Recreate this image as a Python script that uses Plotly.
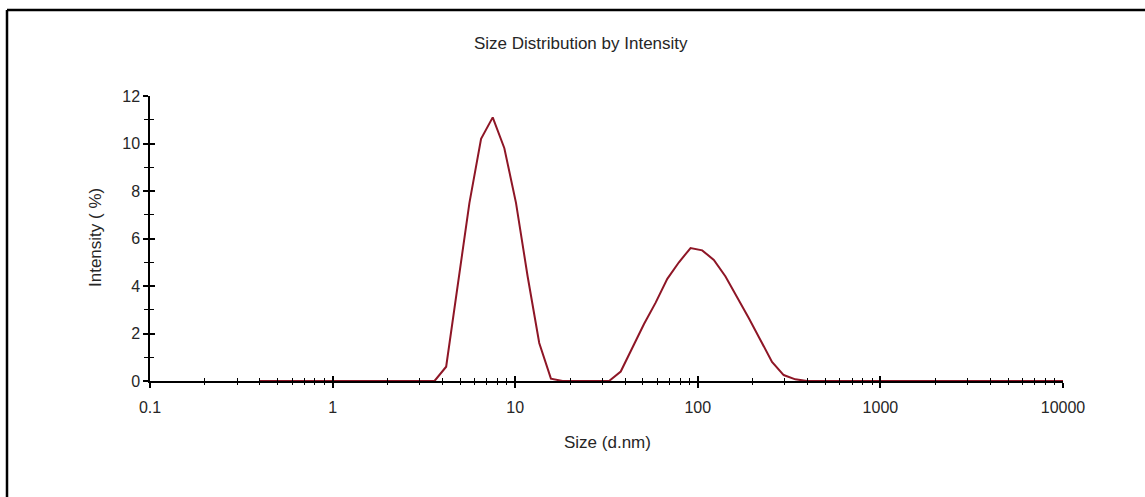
import plotly.graph_objects as go

# Size bins (d.nm) and intensity (%)
sizes = [0.4, 0.4632, 0.5365, 0.6213, 0.7195, 0.8332, 0.9649, 1.117, 1.294, 1.499,
         1.736, 2.01, 2.328, 2.696, 3.122, 3.615, 4.187, 4.849, 5.615, 6.503,
         7.531, 8.721, 10.1, 11.7, 13.54, 15.69, 18.17, 21.04, 24.36, 28.21,
         32.67, 37.84, 43.82, 50.75, 58.77, 68.06, 78.82, 91.28, 105.7, 122.4,
         141.8, 164.2, 190.1, 220.2, 255.0, 295.3, 342.0, 396.1, 458.7, 531.2,
         615.1, 712.4, 825.0, 955.4, 1106, 1281, 1484, 1718, 1990, 2305,
         2669, 3091, 3580, 4145, 4801, 5560, 6439, 7456, 8635, 10000]
intensity = [0, 0, 0, 0, 0, 0, 0, 0, 0, 0,
             0, 0, 0, 0, 0, 0, 0.6, 4.0, 7.5, 10.2,
             11.1, 9.8, 7.5, 4.4, 1.6, 0.1, 0, 0, 0, 0,
             0, 0.4, 1.4, 2.4, 3.3, 4.3, 5.0, 5.6, 5.5, 5.1,
             4.4, 3.55, 2.65, 1.73, 0.8, 0.25, 0.07, 0, 0, 0,
             0, 0, 0, 0, 0, 0, 0, 0, 0, 0,
             0, 0, 0, 0, 0, 0, 0, 0, 0, 0]

x_tickvals = [0.1, 1, 10, 100, 1000, 10000]
x_ticktext = ["0.1", "1", "10", "100", "1000", "10000"]
x_minor = [v * m for v in [0.1, 1, 10, 100, 1000] for m in range(2, 10)]
y_tickvals = [0, 2, 4, 6, 8, 10, 12]

W, H = 1145, 497
L, R, T, B = 150, 1063, 96, 381  # plot area pixels


def px(xp):
    return (xp - L) / (R - L)


def py(yp):
    return (B - yp) / (B - T)


font = "Liberation Sans, Arial, sans-serif"
txt = "#262626"

fig = go.Figure()
fig.add_trace(go.Scatter(x=sizes, y=intensity, mode="lines",
                         line=dict(color="#8E1626", width=2),
                         showlegend=False, hoverinfo="x+y"))
# invisible trace on overlay axes to get crossing ticks
fig.add_trace(go.Scatter(x=sizes, y=intensity, mode="lines", xaxis="x2", yaxis="y2",
                         line=dict(color="rgba(0,0,0,0)", width=0),
                         showlegend=False, hoverinfo="skip"))

tick_common = dict(showgrid=False, zeroline=False, tickcolor="black", tickwidth=1.5)

fig.update_layout(
    width=W, height=H,
    margin=dict(l=L, r=W - R, t=T, b=H - B),
    paper_bgcolor="white", plot_bgcolor="white",
    font=dict(family=font, size=16, color=txt),
    xaxis=dict(type="log", range=[-1, 4], tickvals=x_tickvals, ticktext=x_ticktext,
               ticks="outside", ticklen=5, showline=True, linecolor="black", linewidth=1.5,
               ticklabelstandoff=6,
               minor=dict(tickvals=x_minor, ticks="outside", ticklen=2,
                          tickcolor="black", tickwidth=1),
               tickfont=dict(family=font, size=16, color=txt), **tick_common),
    yaxis=dict(range=[0, 12], tickvals=y_tickvals, ticks="outside", ticklen=5,
               showline=True, linecolor="black", linewidth=1.5,
               minor=dict(dtick=1, ticks="outside", ticklen=4, tickcolor="black", tickwidth=1.2),
               tickfont=dict(family=font, size=16, color=txt), **tick_common),
    xaxis2=dict(type="log", range=[-1, 4], overlaying="x", tickvals=x_tickvals,
                showticklabels=False, ticks="inside", ticklen=5, showline=False,
                minor=dict(tickvals=x_minor, ticks="inside", ticklen=3,
                           tickcolor="black", tickwidth=1),
                **tick_common),
    yaxis2=dict(range=[0, 12], overlaying="y", tickvals=y_tickvals, showticklabels=False,
                ticks="inside", ticklen=5, showline=False,
                minor=dict(dtick=1, ticks="inside", ticklen=4, tickcolor="black", tickwidth=1.2),
                **tick_common),
)

fig.add_annotation(text="Size Distribution by Intensity", xref="paper", yref="paper",
                   x=px(581), y=py(43), xanchor="center", yanchor="middle", showarrow=False,
                   font=dict(family=font, size=17, color=txt))
fig.add_annotation(text="Intensity ( %)", xref="paper", yref="paper",
                   x=px(95), y=py(238), xanchor="center", yanchor="middle",
                   showarrow=False, textangle=-90,
                   font=dict(family=font, size=17, color=txt))
fig.add_annotation(text="Size (d.nm)", xref="paper", yref="paper",
                   x=px(607), y=py(442), xanchor="center", yanchor="middle", showarrow=False,
                   font=dict(family=font, size=17, color=txt))

# image frame: left and top black lines
fig.add_shape(type="line", xref="paper", yref="paper",
              x0=px(7), y0=py(H + 5), x1=px(7), y1=py(10),
              line=dict(color="black", width=2.5))
fig.add_shape(type="line", xref="paper", yref="paper",
              x0=px(7), y0=py(10), x1=px(W + 5), y1=py(10),
              line=dict(color="black", width=2.5))

fig.write_html("out.html")
